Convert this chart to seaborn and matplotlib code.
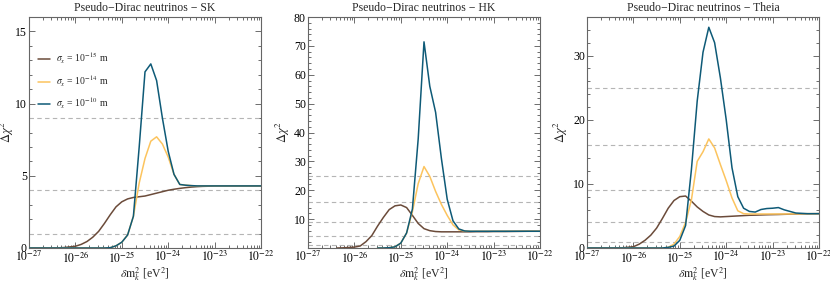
import numpy as np
import pandas as pd
import matplotlib
matplotlib.use("Agg")
import matplotlib.pyplot as plt
import seaborn as sns
from matplotlib.ticker import LogLocator, MultipleLocator, FixedLocator

# grille commune en log10(delta m^2 / eV^2)
log_dm2 = [-27.0, -26.5, -26.375, -26.25, -26.0, -25.875, -25.75, -25.625, -25.5, -25.375,
           -25.25, -25.125, -25.0, -24.875, -24.75, -24.625, -24.5, -24.375, -24.25, -24.125,
           -24.0, -23.875, -23.75, -23.625, -23.5, -23.375, -23.25, -23.125, -23.0, -22.875,
           -22.75, -22.5, -22.25, -22.0]
nan = np.nan

# SK
sk_15 = [0, 0, 0.01, 0.03, 0.12, 0.25, 0.45, 0.75, 1.15, 1.7,
         2.3, 2.85, 3.2, 3.4, 3.5, 3.55, 3.6, 3.7, 3.8, 3.9,
         4.0, 4.07, 4.13, 4.18, 4.22, 4.25, 4.27, 4.28, 4.3, 4.3,
         4.3, 4.3, 4.3, 4.3]
sk_14 = [0, 0, 0, 0, 0, 0, 0, 0, 0, 0,
         0.02, 0.15, 0.4, 0.9, 2.2, 4.5, 6.2, 7.4, 7.7, 7.2,
         6.3, 5.1, 4.4, 4.35, 4.32, 4.3, 4.3, 4.3, 4.3, 4.3,
         4.3, 4.3, 4.3, 4.3]
sk_10 = [0, 0, 0, 0, 0, 0, 0, 0, 0, 0,
         0.02, 0.15, 0.4, 0.9, 2.2, 7.0, 12.2, 12.75, 11.6, 9.0,
         6.7, 5.1, 4.4, 4.35, 4.32, 4.3, 4.3, 4.3, 4.3, 4.3,
         4.3, 4.3, 4.3, 4.3]

# HK
hk_15 = [nan, nan, 0, 0.05, 0.3, 0.7, 2.2, 4.3, 7.6, 10.6,
         13.3, 14.6, 14.9, 14.0, 11.3, 8.5, 6.7, 6.0, 5.7, 5.6,
         5.6, 5.6, 5.6, 5.6, 5.6, 5.65, 5.65, 5.65, 5.7, 5.7,
         5.7, 5.75, 5.8, 5.8]
hk_14 = [nan, nan, nan, nan, nan, nan, nan, nan, 0, 0,
         0.1, 0.4, 1.7, 5.2, 12.6, 22.3, 28.2, 24.8, 19.6, 15.1,
         11.3, 8.0, 6.3, 5.9, 5.8, 5.8, 5.8, 5.8, 5.8, 5.8,
         5.8, 5.8, 5.8, 5.8]
hk_10 = [nan, nan, nan, nan, nan, nan, nan, nan, 0, 0,
         0.1, 0.4, 1.7, 5.2, 13.5, 37.8, 71.4, 56.0, 47.0, 31.0,
         16.9, 9.4, 6.6, 5.9, 5.8, 5.8, 5.8, 5.8, 5.8, 5.8,
         5.8, 5.8, 5.8, 5.8]

# Theia
th_15 = [0, 0, 0, 0.02, 0.2, 0.6, 1.2, 2.0, 3.1, 4.6,
         6.2, 7.4, 8.0, 8.1, 7.3, 6.4, 5.7, 5.15, 4.9, 4.85,
         4.9, 4.95, 5.0, 5.05, 5.1, 5.12, 5.15, 5.18, 5.2, 5.22,
         5.25, 5.3, 5.33, 5.35]
th_14 = [0, 0, 0, 0, 0, 0, 0, 0, 0, 0,
         0.1, 0.6, 1.8, 4.0, 7.5, 13.5, 15.0, 17.0, 15.6, 13.0,
         10.5, 7.8, 5.8, 5.35, 5.3, 5.3, 5.3, 5.3, 5.3, 5.3,
         5.3, 5.32, 5.35, 5.35]
th_10 = [0, 0, 0, 0, 0, 0, 0, 0, 0, 0,
         0.1, 0.3, 1.2, 3.5, 12.2, 22.9, 30.5, 34.4, 32.0, 26.5,
         20.0, 12.5, 8.0, 6.2, 5.7, 5.6, 6.0, 6.15, 6.2, 6.3,
         5.95, 5.45, 5.35, 5.35]

labels = [r"$\sigma_x$ = 10$^{-15}$ m",
          r"$\sigma_x$ = 10$^{-14}$ m",
          r"$\sigma_x$ = 10$^{-10}$ m"]
couleurs = ["#6b4b3a", "#fcc45e", "#0e5a77"]

panneaux = [
    ("SK", [sk_15, sk_14, sk_10], 16, [0, 5, 10, 15], 1, -0.058),
    ("HK", [hk_15, hk_14, hk_10], 80, [10, 20, 30, 40, 50, 60, 70, 80], 2, -0.068),
    ("Theia", [th_15, th_14, th_10], 36, [0, 10, 20, 30], 2, -0.072),
]
niveaux = [1, 4, 9, 16, 25]

sns.set_style("ticks")
plt.rcParams["font.family"] = ["Liberation Serif", "DejaVu Serif"]
plt.rcParams["mathtext.fontset"] = "stix"
plt.rcParams["font.size"] = 8

fig = plt.figure(figsize=(8.3, 2.81), dpi=100)
lefts = [29 / 830, 308 / 830, 587 / 830]

for i, (nom, series, ymax, yticks, ymin_step, ylab_x) in enumerate(panneaux):
    ax = fig.add_axes([lefts[i], 1 - 248 / 281, 232 / 830, 231 / 281])
    rows = []
    for lab, vals in zip(labels, series):
        for lx, v in zip(log_dm2, vals):
            if not np.isnan(v):
                rows.append({"dm2": 10.0 ** lx, "chi2": v, "sigma": lab})
    df = pd.DataFrame(rows)

    for n in niveaux:
        if n < ymax:
            ax.axhline(n, color="#b5b5b5", lw=0.8, ls=(0, (4, 3)), zorder=1)

    sns.lineplot(data=df, x="dm2", y="chi2", hue="sigma", hue_order=labels,
                 palette=couleurs, lw=1.1, ax=ax, legend=(i == 0), zorder=3)

    ax.set_xscale("log")
    ax.set_xlim(1e-27, 1e-22)
    ax.set_ylim(0, ymax)
    ax.xaxis.set_major_locator(FixedLocator([10.0 ** k for k in range(-27, -21)]))
    ax.set_xticklabels([rf"$10^{{{k}}}$" for k in range(-27, -21)])
    ax.xaxis.set_minor_locator(LogLocator(base=10, subs=np.arange(2, 10), numticks=20))
    ax.yaxis.set_major_locator(FixedLocator(yticks))
    ax.yaxis.set_minor_locator(MultipleLocator(ymin_step))
    ax.tick_params(which="both", direction="in", top=True, right=True,
                   colors="#555555", labelcolor="black", labelsize=8.5, width=0.6, pad=1.5)
    ax.tick_params(which="major", length=4)
    ax.tick_params(which="minor", length=2)
    for s in ax.spines.values():
        s.set_color("#666666")
        s.set_linewidth(0.8)
    ax.set_title(f"Pseudo\u2212Dirac neutrinos \u2212 {nom}", fontsize=8.5, pad=4)
    ax.set_xlabel(r"$\delta\mathrm{m}_k^2$ [eV$^2$]", fontsize=8.5)
    ax.set_ylabel(r"$\Delta\chi^2$", fontsize=9)
    ax.xaxis.set_label_coords(0.5, -0.078)
    ax.yaxis.set_label_coords(ylab_x, 0.5)
    if i == 0:
        ax.legend(loc="upper left", frameon=False, fontsize=7, handlelength=1.3,
                  bbox_to_anchor=(0.0, 0.89), labelspacing=0.75, handletextpad=0.6)

fig.savefig("out.png", dpi=100)
